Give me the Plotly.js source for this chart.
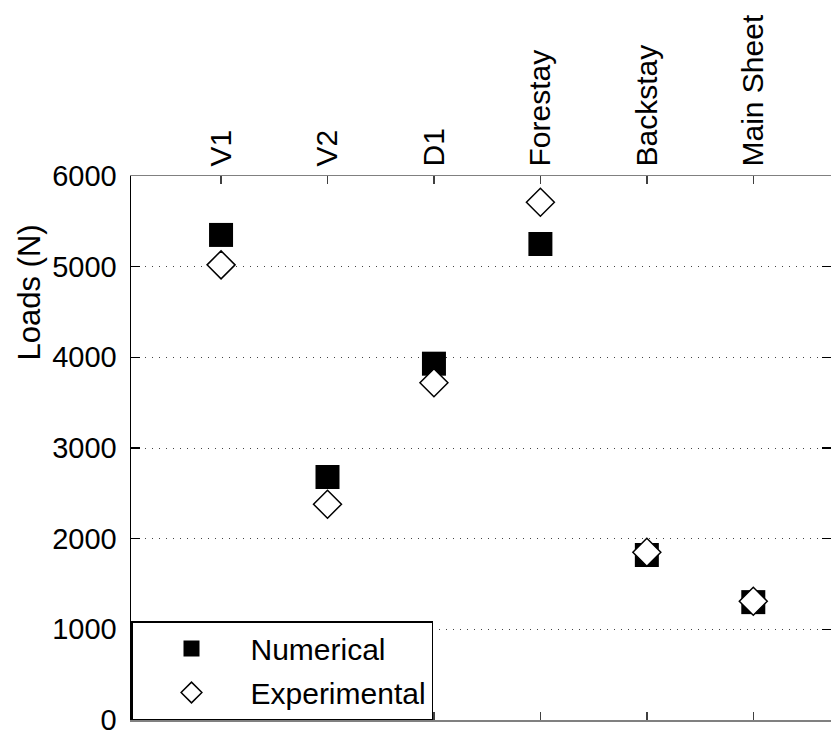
<!DOCTYPE html>
<html>
<head>
<meta charset="utf-8">
<script src="https://cdn.plot.ly/plotly-3.0.1.min.js"></script>
<style>html,body{margin:0;padding:0;background:#fff;}#chart{width:831px;height:736px;}</style>
</head>
<body>
<div id="chart"></div>
<script>
var categories = ['V1', 'V2', 'D1', 'Forestay', 'Backstay', 'Main Sheet'];
var numerical = [5350, 2680, 3930, 5250, 1820, 1300];
var experimental = [5020, 2380, 3720, 5710, 1850, 1310];
var yTicks = [0, 1000, 2000, 3000, 4000, 5000, 6000];

var FONT = 'Liberation Sans, Arial, sans-serif';

var traces = [
  {
    x: categories, y: numerical, name: 'Numerical', type: 'scatter', mode: 'markers',
    legendgroup: 'a',
    marker: {symbol: 'square', size: 24, color: '#000000', line: {width: 0}}
  },
  {
    x: categories, y: experimental, name: 'Experimental', type: 'scatter', mode: 'markers',
    legendgroup: 'b',
    marker: {symbol: 'diamond', size: 21.5, color: '#ffffff', line: {width: 1.5, color: '#000000'}}
  }
];

var layout = {
  width: 831, height: 736,
  margin: {l: 131, r: 0, t: 176, b: 16, pad: 0},
  paper_bgcolor: '#ffffff', plot_bgcolor: '#ffffff',
  font: {family: FONT, size: 29, color: '#000000'},
  showlegend: true,
  xaxis: {
    type: 'category', categoryarray: categories, categoryorder: 'array',
    range: [-0.846, 5.73],
    side: 'top', tickangle: -90,
    showline: true, linecolor: '#808080', linewidth: 1.5,
    mirror: 'ticks', ticks: 'inside', ticklen: 8, tickcolor: '#404040', tickwidth: 1.5,
    showgrid: false, zeroline: false,
    tickfont: {family: FONT, size: 30, color: '#000000'},
    ticklabelstandoff: 2, ticklabeloverflow: 'allow'
  },
  yaxis: {
    range: [0, 6000], tickvals: yTicks, ticktext: yTicks.map(String),
    showline: true, linecolor: '#000000', linewidth: 1.5,
    mirror: 'ticks', ticks: 'inside', ticklen: 9, tickcolor: '#000000', tickwidth: 1.5,
    showgrid: true, gridcolor: '#444444', gridwidth: 1, griddash: '1px,6px',
    zeroline: false,
    tickfont: {family: FONT, size: 29, color: '#000000'},
    ticklabelstandoff: 7, ticklabeloverflow: 'allow'
  },
  legend: {
    x: 0, y: 0, xanchor: 'left', yanchor: 'bottom',
    bgcolor: '#ffffff', bordercolor: '#000000', borderwidth: 1.5,
    font: {family: FONT, size: 30, color: '#000000'},
    itemwidth: 108, tracegroupgap: 2, traceorder: 'grouped'
  },
  annotations: [
    {
      text: 'Loads (N)', xref: 'paper', yref: 'paper', x: -0.145, y: 0.785,
      xanchor: 'center', yanchor: 'middle', textangle: -90, showarrow: false,
      font: {family: FONT, size: 31, color: '#000000'}
    }
  ]
};

Plotly.newPlot('chart', traces, layout, {displayModeBar: false, staticPlot: true}).then(function () {
  var pts = document.querySelectorAll('.legend .legendpoints path.point');
  pts.forEach(function (p) {
    var t = p.getAttribute('transform') || '';
    p.setAttribute('transform', t + ' scale(1.5)');
    p.setAttribute('vector-effect', 'non-scaling-stroke');
  });
});
</script>
</body>
</html>
